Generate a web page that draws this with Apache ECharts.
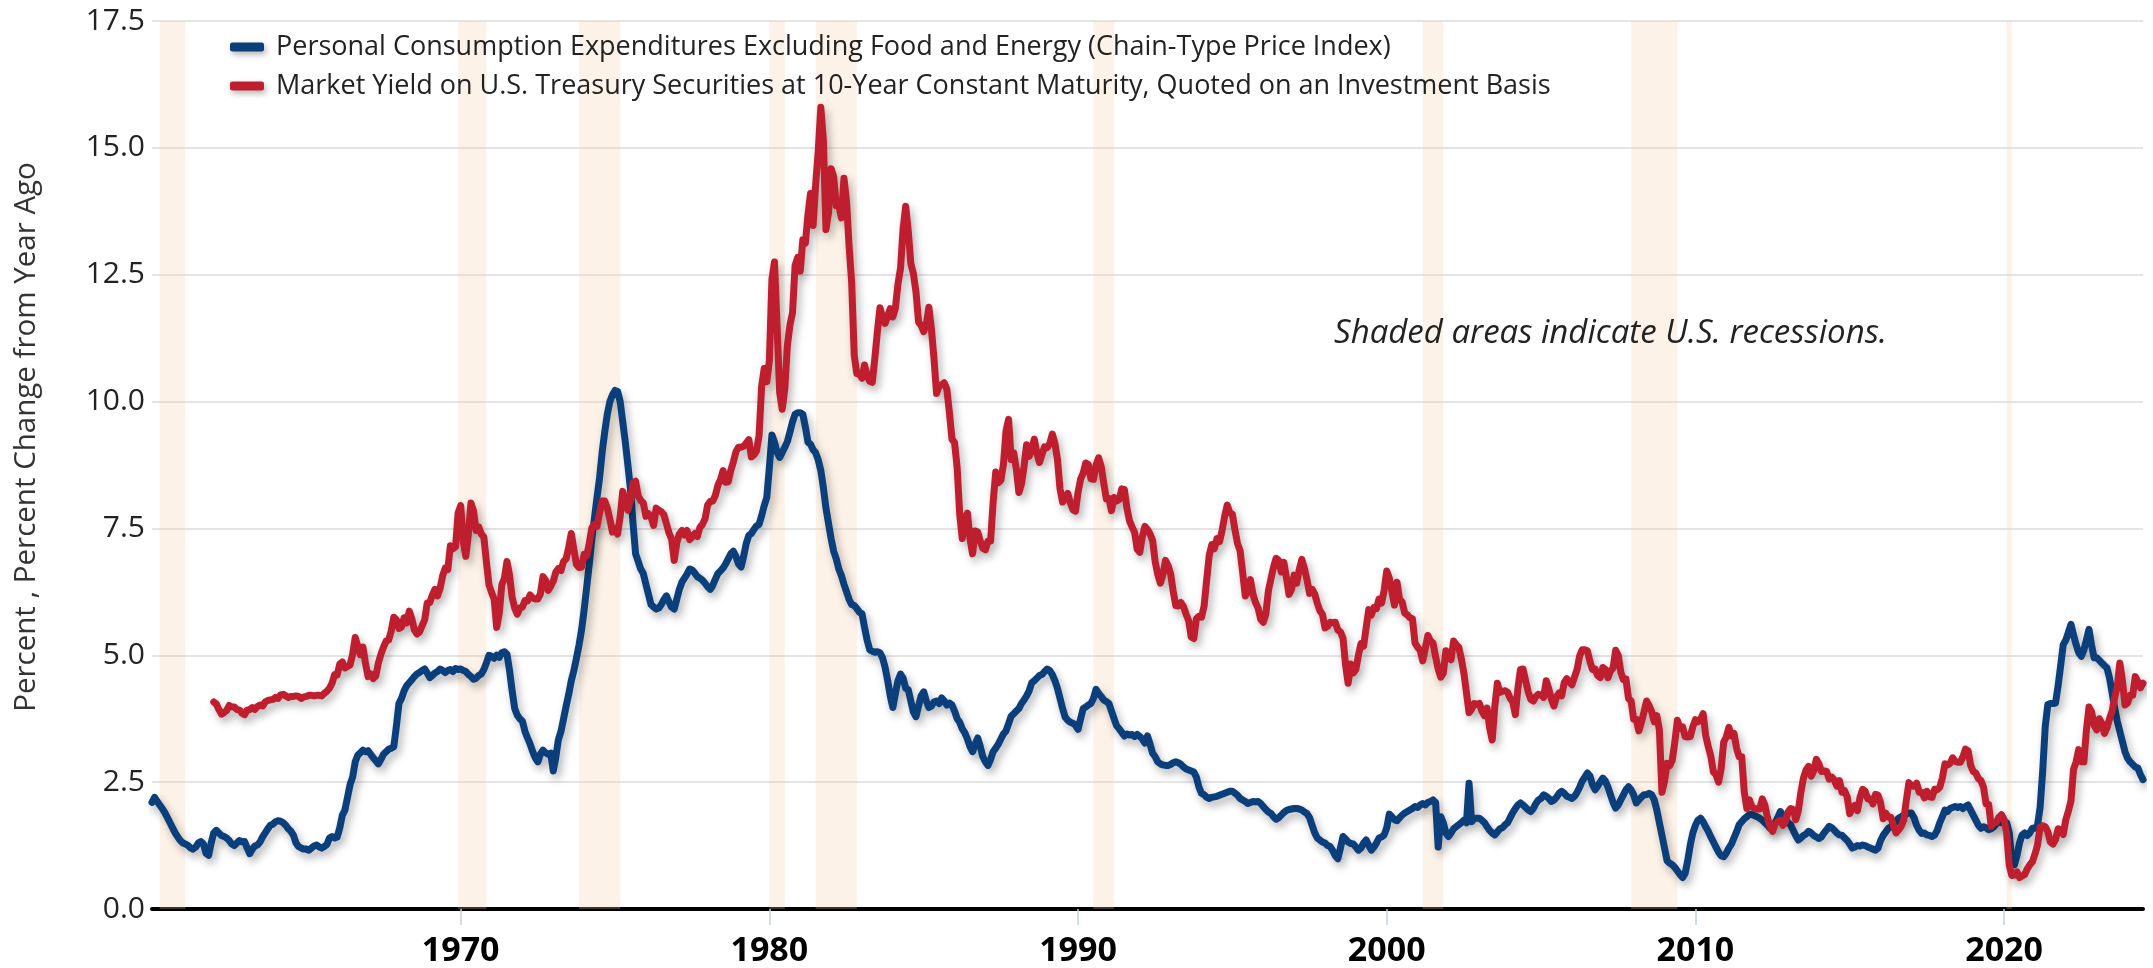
<!DOCTYPE html>
<html>
<head>
<meta charset="utf-8">
<script src="https://cdn.jsdelivr.net/npm/echarts@6/dist/echarts.min.js"></script>
<style>
  html, body { margin: 0; padding: 0; background: #fff; }
  #chart { width: 2153px; height: 968px; }
</style>
</head>
<body>
<div id="chart"></div>
<script>
// monthly values, one row per year (Jan..Dec)
const pceStart = 1960
const pceCore = [
  2.10, 2.20, 2.12, 2.05, 1.98, 1.90, 1.80, 1.70, 1.60, 1.50, 1.42, 1.35, // 1960
  1.30, 1.28, 1.25, 1.20, 1.18, 1.22, 1.30, 1.33, 1.28, 1.10, 1.06, 1.30,
  1.50, 1.55, 1.50, 1.45, 1.43, 1.40, 1.35, 1.28, 1.25, 1.30, 1.35, 1.32,
  1.33, 1.20, 1.09, 1.18, 1.24, 1.26, 1.32, 1.42, 1.50, 1.58, 1.65, 1.67,
  1.72, 1.74, 1.73, 1.70, 1.65, 1.58, 1.53, 1.45, 1.30, 1.23, 1.20, 1.18,
  1.18, 1.16, 1.20, 1.24, 1.26, 1.22, 1.20, 1.23, 1.27, 1.40, 1.43, 1.40, // 1965
  1.42, 1.60, 1.85, 1.95, 2.20, 2.45, 2.60, 2.90, 3.03, 3.08, 3.13, 3.10,
  3.12, 3.05, 2.98, 2.92, 2.86, 2.95, 3.05, 3.10, 3.15, 3.17, 3.20, 3.60,
  4.05, 4.15, 4.30, 4.40, 4.46, 4.52, 4.58, 4.63, 4.66, 4.70, 4.73, 4.65,
  4.56, 4.60, 4.65, 4.68, 4.73, 4.70, 4.66, 4.70, 4.72, 4.68, 4.74, 4.72,
  4.73, 4.70, 4.68, 4.62, 4.58, 4.53, 4.55, 4.60, 4.63, 4.72, 4.85, 5.00, // 1970
  4.98, 4.94, 5.00, 4.96, 5.05, 5.07, 5.02, 4.70, 4.30, 3.95, 3.82, 3.75,
  3.70, 3.50, 3.37, 3.25, 3.10, 2.98, 2.90, 3.05, 3.13, 3.08, 3.05, 3.07,
  2.72, 3.00, 3.34, 3.50, 3.75, 4.00, 4.23, 4.50, 4.70, 4.94, 5.20, 5.50,
  5.90, 6.35, 6.80, 7.30, 7.70, 8.11, 8.50, 9.00, 9.40, 9.75, 10.00, 10.13,
  10.22, 10.20, 10.00, 9.60, 9.20, 8.75, 8.28, 7.60, 7.00, 6.85, 6.70, 6.61, // 1975
  6.40, 6.20, 6.00, 5.95, 5.91, 5.93, 6.00, 6.10, 6.17, 6.05, 5.95, 5.91,
  6.10, 6.30, 6.44, 6.52, 6.60, 6.70, 6.68, 6.62, 6.55, 6.52, 6.48, 6.42,
  6.35, 6.30, 6.38, 6.50, 6.61, 6.66, 6.72, 6.80, 6.90, 7.00, 7.05, 6.95,
  6.80, 6.74, 6.95, 7.20, 7.36, 7.40, 7.48, 7.55, 7.58, 7.75, 7.95, 8.11,
  8.70, 9.34, 9.20, 9.00, 8.90, 9.00, 9.10, 9.21, 9.40, 9.60, 9.75, 9.78, // 1980
  9.78, 9.75, 9.50, 9.20, 9.16, 9.05, 8.99, 8.85, 8.64, 8.30, 7.90, 7.60,
  7.30, 7.05, 6.90, 6.70, 6.57, 6.40, 6.25, 6.10, 6.00, 5.98, 5.92, 5.85,
  5.82, 5.55, 5.30, 5.11, 5.08, 5.06, 5.07, 5.05, 4.95, 4.76, 4.50, 4.20,
  3.97, 4.25, 4.50, 4.63, 4.55, 4.35, 4.32, 4.10, 3.88, 3.79, 4.00, 4.20,
  4.28, 4.10, 3.97, 4.00, 4.08, 4.10, 4.05, 4.16, 4.10, 4.02, 4.06, 4.02, // 1985
  3.90, 3.75, 3.68, 3.55, 3.47, 3.35, 3.20, 3.10, 3.25, 3.37, 3.20, 3.00,
  2.90, 2.83, 2.95, 3.10, 3.17, 3.25, 3.35, 3.45, 3.51, 3.65, 3.80, 3.85,
  3.90, 3.95, 4.05, 4.12, 4.20, 4.30, 4.46, 4.50, 4.55, 4.60, 4.62, 4.68,
  4.73, 4.70, 4.62, 4.50, 4.35, 4.15, 3.95, 3.78, 3.72, 3.68, 3.66, 3.62,
  3.54, 3.75, 3.95, 3.98, 4.02, 4.05, 4.15, 4.33, 4.25, 4.19, 4.12, 4.09, // 1990
  4.05, 3.90, 3.75, 3.61, 3.55, 3.48, 3.41, 3.45, 3.43, 3.44, 3.40, 3.44,
  3.40, 3.35, 3.27, 3.41, 3.25, 3.07, 3.00, 2.90, 2.86, 2.84, 2.83, 2.83,
  2.85, 2.88, 2.90, 2.88, 2.85, 2.80, 2.76, 2.74, 2.72, 2.70, 2.60, 2.40,
  2.28, 2.25, 2.20, 2.18, 2.20, 2.21, 2.22, 2.24, 2.26, 2.28, 2.30, 2.32,
  2.32, 2.28, 2.24, 2.18, 2.15, 2.12, 2.08, 2.10, 2.12, 2.11, 2.12, 2.08, // 1995
  2.02, 1.96, 1.91, 1.88, 1.82, 1.77, 1.80, 1.85, 1.90, 1.94, 1.96, 1.97,
  1.98, 1.98, 1.97, 1.95, 1.91, 1.88, 1.80, 1.65, 1.50, 1.40, 1.36, 1.32,
  1.30, 1.25, 1.23, 1.15, 1.05, 0.99, 1.20, 1.43, 1.38, 1.32, 1.29, 1.28,
  1.22, 1.16, 1.20, 1.30, 1.36, 1.25, 1.16, 1.22, 1.30, 1.40, 1.42, 1.46,
  1.60, 1.87, 1.82, 1.76, 1.74, 1.80, 1.85, 1.89, 1.92, 1.95, 1.98, 2.02, // 2000
  2.00, 2.05, 2.08, 2.05, 2.10, 2.12, 2.15, 2.10, 1.22, 1.82, 1.70, 1.50,
  1.43, 1.50, 1.58, 1.62, 1.66, 1.70, 1.75, 1.70, 2.48, 1.72, 1.78, 1.79,
  1.79, 1.75, 1.70, 1.62, 1.55, 1.50, 1.46, 1.52, 1.58, 1.60, 1.66, 1.70,
  1.80, 1.90, 1.98, 2.05, 2.09, 2.05, 2.00, 1.95, 1.92, 1.98, 2.08, 2.15,
  2.18, 2.25, 2.22, 2.18, 2.12, 2.15, 2.20, 2.28, 2.32, 2.28, 2.22, 2.20, // 2005
  2.18, 2.22, 2.30, 2.40, 2.52, 2.60, 2.68, 2.62, 2.45, 2.35, 2.42, 2.50,
  2.58, 2.52, 2.40, 2.25, 2.10, 1.99, 2.05, 2.15, 2.25, 2.35, 2.41, 2.35,
  2.25, 2.09, 2.15, 2.20, 2.25, 2.25, 2.28, 2.25, 2.15, 1.95, 1.70, 1.45,
  1.20, 0.95, 0.90, 0.87, 0.82, 0.75, 0.68, 0.62, 0.70, 0.95, 1.26, 1.50,
  1.65, 1.75, 1.79, 1.72, 1.62, 1.53, 1.42, 1.32, 1.22, 1.12, 1.05, 1.03, // 2010
  1.10, 1.20, 1.28, 1.40, 1.52, 1.66, 1.72, 1.78, 1.82, 1.86, 1.86, 1.84,
  1.82, 1.79, 1.75, 1.70, 1.65, 1.59, 1.62, 1.70, 1.80, 1.92, 1.85, 1.78,
  1.70, 1.66, 1.55, 1.45, 1.36, 1.40, 1.45, 1.48, 1.53, 1.50, 1.45, 1.42,
  1.39, 1.42, 1.50, 1.56, 1.63, 1.60, 1.55, 1.50, 1.46, 1.45, 1.40, 1.35,
  1.28, 1.20, 1.22, 1.25, 1.24, 1.26, 1.25, 1.22, 1.20, 1.18, 1.16, 1.20, // 2015
  1.35, 1.45, 1.52, 1.59, 1.62, 1.68, 1.72, 1.79, 1.82, 1.85, 1.87, 1.89,
  1.89, 1.80, 1.65, 1.55, 1.49, 1.50, 1.46, 1.45, 1.43, 1.46, 1.55, 1.70,
  1.82, 1.95, 1.92, 1.98, 2.00, 2.02, 2.00, 2.02, 1.98, 2.02, 2.05, 1.95,
  1.85, 1.75, 1.65, 1.59, 1.62, 1.60, 1.56, 1.58, 1.62, 1.68, 1.72, 1.70,
  1.72, 1.70, 1.50, 0.95, 0.87, 1.05, 1.30, 1.46, 1.50, 1.45, 1.50, 1.59, // 2020
  1.59, 1.65, 2.00, 2.71, 3.60, 4.03, 4.05, 4.05, 4.06, 4.40, 4.80, 5.21,
  5.30, 5.45, 5.61, 5.40, 5.21, 5.05, 4.98, 5.10, 5.30, 5.51, 5.20, 4.95,
  4.95, 4.90, 4.85, 4.80, 4.75, 4.55, 4.26, 3.95, 3.70, 3.50, 3.30, 3.10,
  2.97, 2.90, 2.85, 2.80, 2.78, 2.65, 2.55 // 2024
]

const gs10Start = 1962
const gs10 = [
  4.08, 4.04, 3.93, 3.84, 3.87, 3.91, 4.01, 3.98, 3.98, 3.93, 3.92, 3.86, // 1962
  3.83, 3.92, 3.93, 3.97, 3.93, 3.99, 4.02, 4.00, 4.08, 4.11, 4.12, 4.13,
  4.17, 4.15, 4.22, 4.23, 4.20, 4.17, 4.19, 4.19, 4.20, 4.19, 4.15, 4.18,
  4.19, 4.21, 4.21, 4.20, 4.21, 4.21, 4.20, 4.25, 4.29, 4.35, 4.45, 4.62, // 1965
  4.61, 4.83, 4.87, 4.75, 4.78, 4.81, 5.02, 5.35, 5.18, 5.01, 5.16, 4.84,
  4.58, 4.63, 4.54, 4.59, 4.85, 5.02, 5.16, 5.28, 5.30, 5.48, 5.75, 5.70,
  5.53, 5.56, 5.74, 5.64, 5.87, 5.72, 5.50, 5.42, 5.46, 5.58, 5.70, 6.03,
  6.04, 6.19, 6.30, 6.17, 6.32, 6.57, 6.72, 6.69, 7.16, 7.10, 7.14, 7.80,
  7.95, 7.24, 6.95, 7.39, 8.00, 7.84, 7.46, 7.53, 7.39, 7.33, 6.84, 6.39, // 1970
  6.24, 6.11, 5.55, 5.83, 6.39, 6.52, 6.85, 6.58, 6.14, 5.93, 5.81, 5.93,
  5.95, 6.08, 6.07, 6.19, 6.13, 6.11, 6.11, 6.21, 6.55, 6.48, 6.28, 6.36,
  6.46, 6.64, 6.71, 6.67, 6.85, 6.90, 7.13, 7.40, 7.09, 6.79, 6.73, 6.74,
  6.99, 6.96, 7.21, 7.51, 7.58, 7.54, 7.81, 8.04, 8.04, 7.90, 7.68, 7.43,
  7.50, 7.39, 7.73, 8.23, 8.06, 7.86, 8.06, 8.40, 8.43, 8.14, 8.05, 8.00, // 1975
  7.74, 7.79, 7.73, 7.56, 7.90, 7.86, 7.83, 7.77, 7.59, 7.41, 7.29, 6.87,
  7.21, 7.39, 7.46, 7.37, 7.46, 7.28, 7.33, 7.40, 7.34, 7.52, 7.58, 7.69,
  7.96, 8.03, 8.04, 8.15, 8.35, 8.46, 8.64, 8.41, 8.42, 8.64, 8.81, 9.01,
  9.10, 9.10, 9.12, 9.18, 9.25, 8.91, 8.95, 9.03, 9.33, 10.30, 10.65, 10.39,
  10.80, 12.41, 12.75, 11.47, 10.18, 9.85, 10.25, 11.10, 11.51, 11.75, 12.68, 12.84, // 1980
  12.57, 13.19, 13.12, 13.68, 14.10, 13.47, 14.28, 14.94, 15.80, 15.15, 13.39, 13.72,
  14.59, 14.43, 13.86, 13.87, 13.62, 14.40, 13.95, 13.06, 12.34, 10.91, 10.55, 10.54,
  10.46, 10.72, 10.51, 10.40, 10.38, 10.85, 11.38, 11.85, 11.65, 11.54, 11.69, 11.83,
  11.67, 11.84, 12.32, 12.63, 13.41, 13.85, 13.36, 12.72, 12.52, 12.16, 11.57, 11.50,
  11.38, 11.51, 11.86, 11.43, 10.85, 10.16, 10.31, 10.33, 10.37, 10.24, 9.78, 9.26, // 1985
  9.19, 8.70, 7.78, 7.30, 7.71, 7.80, 7.30, 7.00, 7.45, 7.43, 7.25, 7.11,
  7.08, 7.25, 7.25, 8.02, 8.61, 8.40, 8.45, 8.76, 9.42, 9.65, 8.86, 8.99,
  8.67, 8.21, 8.37, 8.72, 9.15, 8.92, 9.06, 9.26, 8.98, 8.80, 8.96, 9.11,
  9.09, 9.17, 9.36, 9.18, 8.86, 8.28, 8.02, 8.11, 8.19, 8.01, 7.87, 7.84,
  8.21, 8.47, 8.59, 8.79, 8.76, 8.48, 8.47, 8.75, 8.89, 8.72, 8.39, 8.08, // 1990
  8.09, 7.85, 8.11, 8.04, 8.07, 8.28, 8.27, 7.90, 7.65, 7.53, 7.42, 7.09,
  7.03, 7.34, 7.54, 7.48, 7.39, 7.26, 6.84, 6.59, 6.42, 6.59, 6.87, 6.77,
  6.60, 6.26, 5.98, 5.97, 6.04, 5.96, 5.81, 5.68, 5.36, 5.33, 5.72, 5.77,
  5.75, 5.97, 6.48, 6.97, 7.18, 7.10, 7.30, 7.24, 7.46, 7.74, 7.96, 7.81,
  7.78, 7.47, 7.20, 7.06, 6.63, 6.17, 6.28, 6.49, 6.20, 6.04, 5.93, 5.71, // 1995
  5.65, 5.81, 6.27, 6.51, 6.74, 6.91, 6.87, 6.64, 6.83, 6.53, 6.20, 6.30,
  6.58, 6.42, 6.69, 6.89, 6.71, 6.49, 6.22, 6.30, 6.21, 6.03, 5.88, 5.81,
  5.54, 5.57, 5.65, 5.64, 5.65, 5.50, 5.46, 5.34, 4.81, 4.45, 4.83, 4.65,
  4.72, 5.00, 5.23, 5.18, 5.54, 5.90, 5.79, 5.94, 5.92, 6.11, 6.03, 6.28,
  6.66, 6.52, 6.26, 5.99, 6.44, 6.10, 6.05, 5.83, 5.80, 5.74, 5.72, 5.24, // 2000
  5.16, 5.10, 4.89, 5.14, 5.39, 5.28, 5.24, 4.97, 4.73, 4.57, 4.65, 5.09,
  5.04, 4.91, 5.28, 5.21, 5.16, 4.93, 4.65, 4.26, 3.87, 3.94, 4.05, 4.03,
  4.05, 3.90, 3.81, 3.96, 3.57, 3.33, 3.98, 4.45, 4.27, 4.29, 4.30, 4.27,
  4.15, 4.08, 3.83, 4.35, 4.72, 4.73, 4.50, 4.28, 4.13, 4.10, 4.19, 4.23,
  4.22, 4.17, 4.50, 4.34, 4.14, 4.00, 4.18, 4.26, 4.20, 4.46, 4.54, 4.47, // 2005
  4.42, 4.57, 4.72, 4.99, 5.11, 5.11, 5.09, 4.88, 4.72, 4.73, 4.60, 4.56,
  4.76, 4.72, 4.56, 4.69, 4.75, 5.10, 5.00, 4.67, 4.52, 4.53, 4.15, 4.10,
  3.74, 3.74, 3.51, 3.68, 3.88, 4.10, 4.01, 3.89, 3.69, 3.81, 3.53, 2.30,
  2.52, 2.87, 2.82, 2.93, 3.29, 3.72, 3.56, 3.59, 3.40, 3.39, 3.40, 3.59,
  3.73, 3.69, 3.73, 3.85, 3.42, 3.20, 3.01, 2.70, 2.65, 2.50, 2.76, 3.29, // 2010
  3.39, 3.58, 3.41, 3.46, 3.17, 3.00, 3.00, 2.30, 1.98, 2.15, 2.01, 1.98,
  1.97, 1.97, 2.17, 2.05, 1.80, 1.62, 1.53, 1.68, 1.72, 1.75, 1.65, 1.72,
  1.91, 1.98, 1.96, 1.76, 1.93, 2.30, 2.58, 2.74, 2.81, 2.62, 2.72, 2.95,
  2.86, 2.71, 2.72, 2.71, 2.56, 2.60, 2.54, 2.42, 2.53, 2.30, 2.33, 2.21,
  1.88, 1.98, 2.04, 1.94, 2.20, 2.36, 2.32, 2.17, 2.17, 2.07, 2.26, 2.24, // 2015
  2.09, 1.78, 1.89, 1.81, 1.81, 1.64, 1.50, 1.56, 1.63, 1.76, 2.14, 2.49,
  2.43, 2.42, 2.48, 2.30, 2.30, 2.19, 2.32, 2.21, 2.20, 2.36, 2.35, 2.40,
  2.58, 2.86, 2.84, 2.87, 2.98, 2.91, 2.89, 2.89, 3.00, 3.15, 3.12, 2.83,
  2.71, 2.68, 2.57, 2.53, 2.40, 2.07, 2.06, 1.63, 1.70, 1.71, 1.81, 1.86,
  1.76, 1.50, 0.87, 0.66, 0.67, 0.73, 0.62, 0.65, 0.68, 0.79, 0.87, 0.93, // 2020
  1.08, 1.26, 1.61, 1.64, 1.62, 1.52, 1.32, 1.28, 1.37, 1.58, 1.56, 1.47,
  1.76, 1.93, 2.13, 2.75, 2.90, 3.14, 2.90, 2.90, 3.52, 3.98, 3.89, 3.62,
  3.53, 3.75, 3.66, 3.46, 3.57, 3.75, 3.90, 4.17, 4.38, 4.85, 4.50, 4.02,
  4.06, 4.21, 4.21, 4.58, 4.48, 4.36, 4.45 // 2024
]

// NBER recessions, peak month .. trough month (decimal years)
const recessions = [
  [1960.25, 1961.083], [1969.917, 1970.833], [1973.833, 1975.167],
  [1980.0, 1980.5], [1981.5, 1982.833], [1990.5, 1991.167],
  [2001.167, 2001.833], [2007.917, 2009.417], [2020.083, 2020.25]
]
const decadeTicks = [1970, 1980, 1990, 2000, 2010, 2020]

const seriesNames = [
  'Personal Consumption Expenditures Excluding Food and Energy (Chain-Type Price Index)',
  'Market Yield on U.S. Treasury Securities at 10-Year Constant Maturity, Quoted on an Investment Basis'
]
const colors = ['#0b3f7b', '#bf1e2e']

const toPoints = (arr, start) => arr.map((v, i) => [start + i / 12, v])

const font = '"Open Sans", "Noto Sans", sans-serif'
const chart = echarts.init(document.getElementById('chart'), null, { renderer: 'canvas' })

const lineShadow = {
  shadowColor: 'rgba(0, 0, 0, 0.3)',
  shadowBlur: 9,
  shadowOffsetX: 3,
  shadowOffsetY: 5
}

const option = {
  animation: false,
  backgroundColor: '#fff',
  color: colors,
  grid: { left: 152, right: 10, top: 21, bottom: 58 },
  legend: {
    orient: 'vertical',
    left: 225,
    top: 26,
    itemWidth: 34,
    itemHeight: 9,
    itemGap: 7,
    icon: 'roundRect',
    itemStyle: { shadowColor: 'rgba(0,0,0,0.3)', shadowBlur: 6, shadowOffsetX: 2, shadowOffsetY: 3 },
    textStyle: {
      fontFamily: font,
      fontSize: 27,
      color: '#222',
      lineHeight: 32,
      padding: [0, 0, 0, 7]
    },
    data: seriesNames
  },
  xAxis: {
    type: 'value',
    min: 1960,
    max: 2024.5,
    interval: 10,
    axisLine: { show: true, onZero: true, lineStyle: { color: '#000', width: 4 } },
    axisTick: {
      show: true,
      length: 16,
      customValues: decadeTicks,
      lineStyle: { color: '#c3d0e3', width: 1.5 }
    },
    axisLabel: {
      customValues: decadeTicks,
      formatter: v => (v === 1960 ? '' : String(v)),
      fontFamily: font,
      fontWeight: 'bold',
      fontSize: 34,
      color: '#000',
      margin: 25
    },
    splitLine: { show: false }
  },
  yAxis: {
    type: 'value',
    min: 0,
    max: 17.5,
    interval: 2.5,
    axisLine: { show: false },
    axisTick: { show: false },
    axisLabel: {
      formatter: v => v.toFixed(1),
      fontFamily: font,
      fontSize: 30,
      color: '#222',
      margin: 7
    },
    splitLine: { lineStyle: { color: '#e4e4e4', width: 2 } }
  },
  graphic: [
    {
      type: 'text',
      x: 27,
      y: 437,
      rotation: Math.PI / 2,
      style: {
        text: 'Percent , Percent Change from Year Ago',
        font: '29.5px ' + font,
        fill: '#333',
        textAlign: 'center',
        textVerticalAlign: 'middle',
        align: 'center',
        verticalAlign: 'middle'
      }
    },
    {
      type: 'text',
      x: 1334,
      y: 334,
      z: 10,
      style: {
        text: 'Shaded areas indicate U.S. recessions.',
        font: 'italic 33px ' + font,
        fill: '#222',
        textAlign: 'left',
        textVerticalAlign: 'middle',
        align: 'left',
        verticalAlign: 'middle'
      }
    }
  ],
  series: [
    {
      name: seriesNames[0],
      type: 'line',
      showSymbol: false,
      symbol: 'none',
      z: 3,
      lineStyle: Object.assign({ width: 7, color: colors[0], join: 'round', cap: 'round' }, lineShadow),
      data: toPoints(pceCore, pceStart),
      markArea: {
        silent: true,
        itemStyle: { color: 'rgba(247, 205, 160, 0.25)' },
        data: recessions.map(r => [{ xAxis: r[0] }, { xAxis: r[1] }])
      }
    },
    {
      name: seriesNames[1],
      type: 'line',
      showSymbol: false,
      symbol: 'none',
      z: 4,
      lineStyle: Object.assign({ width: 7, color: colors[1], join: 'round', cap: 'round' }, lineShadow),
      data: toPoints(gs10, gs10Start)
    }
  ]
}

chart.setOption(option)
</script>
</body>
</html>
